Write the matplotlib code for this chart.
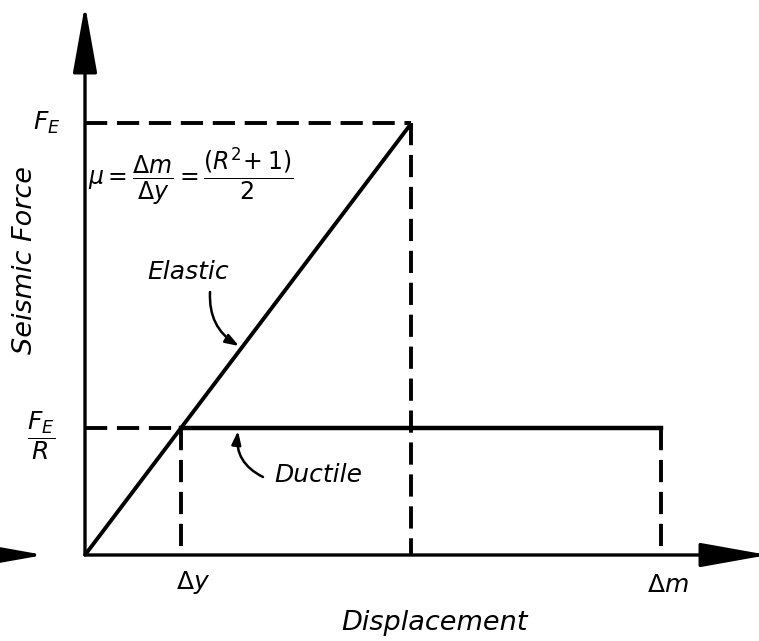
import matplotlib
matplotlib.use("Agg")
import matplotlib.pyplot as plt

plt.rcParams['lines.scale_dashes'] = False
plt.rcParams['mathtext.fontset'] = 'dejavusans'
plt.rcParams['mathtext.default'] = 'it'

# =============================================================================
# Data (normalised units: yield displacement = 1, reduced force F_E/R = 1)
# =============================================================================
R = 3.4                      # force reduction factor
delta_y = 1.0                # yield displacement
delta_m = 6.0                # max ductile displacement
F_red = 1.0                  # F_E / R
F_E = R * F_red              # elastic force

elastic_x = [0, R * delta_y]
elastic_y = [0, F_E]
ductile_x = [delta_y, delta_m]
ductile_y = [F_red, F_red]

# pixel mapping: origin at (85, 555), 96 px per x unit, 127 px per y unit
fig = plt.figure(figsize=(7.59, 6.41), dpi=100)
ax = fig.add_axes([0, 0, 1, 1])
ax.set_xlim(-85 / 96, (759 - 85) / 96)
ax.set_ylim(-(641 - 555) / 127, 555 / 127)
ax.axis('off')

lw_axis = 2.4
lw_line = 2.8
dash = (0, (16, 7))

# axes with filled arrowheads
arrow = dict(arrowstyle='-|>,head_length=42,head_width=7.5', mutation_scale=1,
             color='black', lw=lw_axis, shrinkA=0, shrinkB=0)
ax.annotate('', xy=(0, 550 / 127), xytext=(0, 0), arrowprops=arrow)
ax.annotate('', xy=((768 - 85) / 96, 0), xytext=(0, 0), arrowprops=arrow,
            annotation_clip=False)
ax.annotate('', xy=((44 - 85) / 96, 0), xytext=((-40 - 85) / 96, 0), arrowprops=arrow,
            annotation_clip=False)

# elastic response
ax.plot(elastic_x, elastic_y, color='black', lw=lw_line, solid_capstyle='butt')
ax.plot([0, elastic_x[1]], [F_E, F_E], color='black', lw=lw_line, linestyle=dash)
ax.plot([elastic_x[1], elastic_x[1]], [F_E, 0], color='black', lw=lw_line, linestyle=dash)

# ductile response
ax.plot([0, delta_y], [F_red, F_red], color='black', lw=lw_line, linestyle=dash)
ax.plot(ductile_x, ductile_y, color='black', lw=3.2, solid_capstyle='projecting')
ax.plot([delta_y, delta_y], [F_red, 0], color='black', lw=lw_line, linestyle=dash)
ax.plot([delta_m, delta_m], [F_red, 0], color='black', lw=lw_line, linestyle=dash)

txt = dict(color='black', style='italic', family='DejaVu Sans')

# axis labels
ax.text(-60 / 96, (555 - 260) / 127, 'Seismic Force', rotation=90, fontsize=19.5,
        ha='center', va='center', **txt)
ax.text((435 - 85) / 96, -(623 - 555) / 127, 'Displacement', fontsize=19.5,
        ha='center', va='center', **txt)

# tick-like labels
ax.text(-38 / 96, F_E, r'$F_E$', fontsize=18, ha='center', va='center', **txt)
ax.text(-44 / 96, F_red - 8 / 127, r'$\dfrac{F_E}{R}$', fontsize=18, ha='center', va='center', **txt)
ax.text(delta_y + 12 / 96, -(582 - 555) / 127, r'$\Delta y$', fontsize=18, ha='center', va='center', **txt)
ax.text(delta_m + 7 / 96, -(585 - 555) / 127, r'$\Delta m$', fontsize=18, ha='center', va='center', **txt)

# ductility formula
ax.text((88 - 85) / 96, (555 - 176) / 127,
        r'$\mu = \dfrac{\Delta m}{\Delta y} = \dfrac{(R^2\!+1)}{2}$',
        fontsize=17, ha='left', va='center', **txt)

# curve labels with leader arrows
ax.text((188 - 85) / 96, (555 - 272) / 127, 'Elastic', fontsize=18,
        ha='center', va='center', **txt)
ax.text((318 - 85) / 96, (555 - 475) / 127, 'Ductile', fontsize=18,
        ha='center', va='center', **txt)

lead = dict(arrowstyle='-|>,head_length=8,head_width=2.8', mutation_scale=1,
            color='black', lw=1.8, shrinkA=0, shrinkB=0)
ax.annotate('', xy=((239 - 85) / 96, (555 - 346) / 127),
            xytext=((210 - 85) / 96, (555 - 292) / 127),
            arrowprops=dict(connectionstyle='arc3,rad=0.3', **lead))
ax.annotate('', xy=((238 - 85) / 96, (555 - 431) / 127),
            xytext=((263 - 85) / 96, (555 - 477) / 127),
            arrowprops=dict(connectionstyle='arc3,rad=-0.35', **lead))

fig.savefig('out.png', dpi=100, facecolor='white')
